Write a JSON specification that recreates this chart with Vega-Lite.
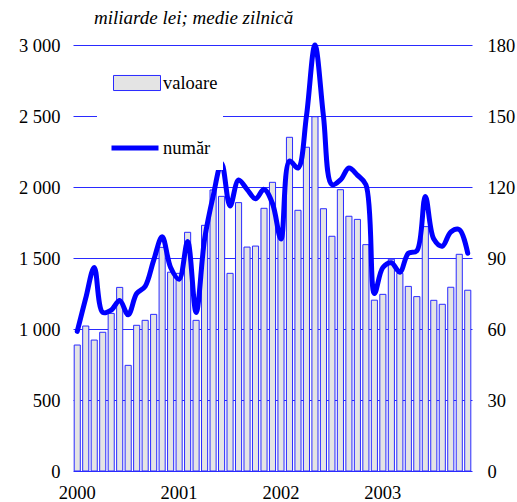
{
  "$schema": "https://vega.github.io/schema/vega-lite/v6.json",
  "width": 399,
  "height": 426,
  "autosize": {"type": "none"},
  "padding": {"left": 73, "top": 45, "right": 45, "bottom": 31},
  "background": "white",
  "config": {
    "view": {"stroke": null},
    "font": "Liberation Serif",
    "axis": {"labelFont": "Liberation Serif", "labelFontSize": 18.5, "labelColor": "black", "titleFont": "Liberation Serif"},
    "legend": {"labelFont": "Liberation Serif", "labelFontSize": 18.5, "labelColor": "black"}
  },
  "title": {
    "text": "miliarde lei; medie zilnică",
    "anchor": "start",
    "frame": "group",
    "dx": 21,
    "offset": 8,
    "font": "Liberation Serif",
    "fontSize": 19,
    "fontStyle": "italic",
    "fontWeight": "normal",
    "color": "black"
  },
  "data": {
    "values": [
      {"m": "2000-01", "valoare": 887, "numar": 59},
      {"m": "2000-02", "valoare": 1021, "numar": 73},
      {"m": "2000-03", "valoare": 922, "numar": 86},
      {"m": "2000-04", "valoare": 977, "numar": 67},
      {"m": "2000-05", "valoare": 1110, "numar": 68},
      {"m": "2000-06", "valoare": 1293, "numar": 72},
      {"m": "2000-07", "valoare": 744, "numar": 66},
      {"m": "2000-08", "valoare": 1026, "numar": 75},
      {"m": "2000-09", "valoare": 1061, "numar": 78},
      {"m": "2000-10", "valoare": 1103, "numar": 89},
      {"m": "2000-11", "valoare": 1575, "numar": 99},
      {"m": "2000-12", "valoare": 1400, "numar": 86},
      {"m": "2001-01", "valoare": 1392, "numar": 81},
      {"m": "2001-02", "valoare": 1681, "numar": 97},
      {"m": "2001-03", "valoare": 1061, "numar": 67},
      {"m": "2001-04", "valoare": 1730, "numar": 98},
      {"m": "2001-05", "valoare": 1979, "numar": 116},
      {"m": "2001-06", "valoare": 1934, "numar": 130},
      {"m": "2001-07", "valoare": 1392, "numar": 112},
      {"m": "2001-08", "valoare": 1890, "numar": 123},
      {"m": "2001-09", "valoare": 1577, "numar": 119},
      {"m": "2001-10", "valoare": 1584, "numar": 115},
      {"m": "2001-11", "valoare": 1850, "numar": 119},
      {"m": "2001-12", "valoare": 2033, "numar": 113},
      {"m": "2002-01", "valoare": 1709, "numar": 98},
      {"m": "2002-02", "valoare": 2350, "numar": 131},
      {"m": "2002-03", "valoare": 1836, "numar": 128},
      {"m": "2002-04", "valoare": 2280, "numar": 150},
      {"m": "2002-05", "valoare": 2495, "numar": 180},
      {"m": "2002-06", "valoare": 1847, "numar": 150},
      {"m": "2002-07", "valoare": 1653, "numar": 121},
      {"m": "2002-08", "valoare": 1981, "numar": 123},
      {"m": "2002-09", "valoare": 1794, "numar": 128},
      {"m": "2002-10", "valoare": 1772, "numar": 125},
      {"m": "2002-11", "valoare": 1594, "numar": 121},
      {"m": "2002-12", "valoare": 1203, "numar": 75},
      {"m": "2003-01", "valoare": 1244, "numar": 86},
      {"m": "2003-02", "valoare": 1491, "numar": 88},
      {"m": "2003-03", "valoare": 1392, "numar": 84},
      {"m": "2003-04", "valoare": 1300, "numar": 92},
      {"m": "2003-05", "valoare": 1228, "numar": 93},
      {"m": "2003-06", "valoare": 1721, "numar": 116},
      {"m": "2003-07", "valoare": 1202, "numar": 98},
      {"m": "2003-08", "valoare": 1174, "numar": 95},
      {"m": "2003-09", "valoare": 1294, "numar": 101},
      {"m": "2003-10", "valoare": 1526, "numar": 102},
      {"m": "2003-11", "valoare": 1273, "numar": 92}
    ]
  },
  "encoding": {
    "x": {
      "field": "m",
      "type": "ordinal",
      "scale": {"paddingInner": 0.28, "paddingOuter": 0.14},
      "axis": {
        "title": null,
        "labelAngle": 0,
        "labelExpr": "slice(datum.value, 5) == '01' ? slice(datum.value, 0, 4) : ''",
        "ticks": false,
        "domain": false,
        "labelPadding": 12
      }
    }
  },
  "layer": [
    {
      "mark": {"type": "bar", "stroke": "#2a2aff", "strokeWidth": 1},
      "encoding": {
        "y": {
          "field": "valoare",
          "type": "quantitative",
          "scale": {"domain": [0, 3000]},
          "axis": {
            "title": null,
            "values": [0, 500, 1000, 1500, 2000, 2500, 3000],
            "labelExpr": "replace(format(datum.value, ','), ',', ' ')",
            "ticks": false,
            "domain": false,
            "labelPadding": 13,
            "grid": true,
            "gridColor": "#2a2aff",
            "gridOpacity": 1,
            "gridWidth": 1
          }
        },
        "fill": {
          "datum": "valoare",
          "scale": {"range": ["#e4e4e4"]},
          "legend": {
            "title": null,
            "orient": "none",
            "legendX": 40,
            "legendY": 14,
            "padding": 0,
            "symbolType": "M-1,-0.32H1V0.32H-1Z",
            "symbolSize": 2209,
            "symbolStrokeColor": "#2a2aff",
            "symbolStrokeWidth": 1,
            "symbolFillColor": "#e4e4e4",
            "labelOffset": 2,
            "labelFont": "Liberation Serif",
            "labelFontSize": 18.5,
            "encode": {"labels": {"update": {"font": {"value": "Liberation Serif"}, "fontSize": {"value": 18.5}}}}
          }
        }
      }
    },
    {
      "mark": {"type": "line", "interpolate": "catmull-rom", "strokeWidth": 5, "strokeCap": "round", "strokeJoin": "round"},
      "encoding": {
        "y": {
          "field": "numar",
          "type": "quantitative",
          "scale": {"domain": [0, 180]},
          "axis": {
            "title": null,
            "orient": "right",
            "values": [0, 30, 60, 90, 120, 150, 180],
            "ticks": false,
            "domain": false,
            "grid": false,
            "labelPadding": 15
          }
        },
        "stroke": {
          "datum": "număr",
          "scale": {"range": ["#0000ff"]},
          "legend": {
            "title": null,
            "orient": "none",
            "legendX": 24,
            "legendY": 65,
            "padding": 12,
            "fillColor": "white",
            "symbolType": "stroke",
            "symbolSize": 2209,
            "symbolStrokeWidth": 5,
            "labelOffset": 2,
            "labelFont": "Liberation Serif",
            "labelFontSize": 18.5,
            "encode": {"labels": {"update": {"font": {"value": "Liberation Serif"}, "fontSize": {"value": 18.5}}}}
          }
        }
      }
    }
  ],
  "resolve": {"scale": {"y": "independent"}}
}
